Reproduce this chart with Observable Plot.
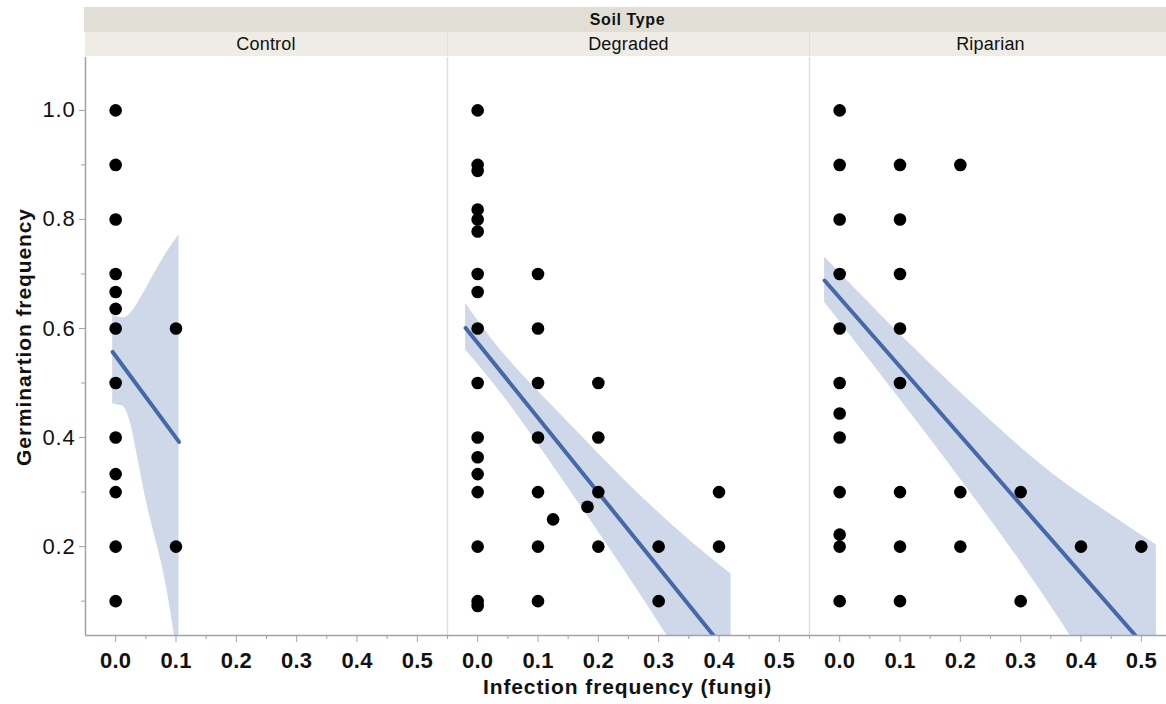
<!DOCTYPE html>
<html>
<head>
<meta charset="utf-8">
<script src="https://cdn.jsdelivr.net/npm/d3@7"></script>
<script src="https://cdn.jsdelivr.net/npm/@observablehq/plot@0.6"></script>
<style>
  html, body { margin: 0; padding: 0; background: #fff; overflow: hidden; }
  #wrap { position: relative; width: 1166px; height: 704px; overflow: hidden; font-family: "Liberation Sans", Arial, Helvetica, sans-serif; color: #111; }
  #wrap svg { position: absolute; left: 0; top: 0; max-width: none !important; }
  #wrap svg g[aria-label="y-axis tick label"] { font-size: 22px !important; }
  #wrap svg g[aria-label="y-axis tick label"] text { letter-spacing: 0.8px; }
  #wrap svg g[aria-label="x-axis tick label"] { font-size: 22px !important; font-weight: bold !important; }
  #wrap svg g[aria-label="x-axis tick label"] text { letter-spacing: 0.2px; }
  .band1 { position: absolute; background: #e1dfd5; font-weight: bold; font-size: 16px; letter-spacing: 0.6px; text-align: center; line-height: 25px; }
  .band2 { position: absolute; background: #eeece5; font-size: 18px; letter-spacing: 0.2px; text-align: center; line-height: 24px; box-sizing: border-box; }
  .xtitle { position: absolute; font-weight: bold; font-size: 21px; letter-spacing: 0.9px; line-height: 1; white-space: nowrap; transform: translateX(-50%); }
  .ytitle { position: absolute; font-weight: bold; font-size: 21px; letter-spacing: 0.9px; line-height: 1; white-space: nowrap; transform: translate(-50%, -50%) rotate(-90deg); }
</style>
</head>
<body>
<div id="wrap"></div>
<script>
// ---- Data ----
const soilTypes = ["Control", "Degraded", "Riparian"];
const facetTitle = "Soil Type";
const xTitle = "Infection frequency (fungi)";
const yTitle = "Germinartion frequency";
const xTicks = [0, 0.1, 0.2, 0.3, 0.4, 0.5];
const xMinorTicks = [0.05, 0.15, 0.25, 0.35, 0.45, 0.55];
const yTicks = [0.2, 0.4, 0.6, 0.8, 1.0];
const yMinorTicks = [0.1, 0.3, 0.5, 0.7, 0.9];
const xDomain = [-0.05, 0.55];
const yDomain = [0.037, 1.097];

// points
const controlX = [0, 0, 0, 0, 0, 0, 0, 0, 0, 0, 0, 0, 0, 0.1, 0.1];
const controlY = [1.0, 0.9, 0.8, 0.7, 0.667, 0.636, 0.6, 0.5, 0.4, 0.333, 0.3, 0.2, 0.1, 0.6, 0.2];

const degradedX = [0, 0, 0, 0, 0, 0, 0, 0, 0, 0, 0, 0, 0, 0, 0, 0, 0,
  0.1, 0.1, 0.1, 0.1, 0.1, 0.1, 0.1, 0.125, 0.182, 0.2, 0.2, 0.2, 0.2, 0.3, 0.3, 0.4, 0.4];
const degradedY = [1.0, 0.9, 0.889, 0.818, 0.8, 0.778, 0.7, 0.667, 0.6, 0.5, 0.4, 0.364, 0.333, 0.3, 0.2, 0.1, 0.091,
  0.7, 0.6, 0.5, 0.4, 0.3, 0.2, 0.1, 0.25, 0.273, 0.5, 0.4, 0.3, 0.2, 0.2, 0.1, 0.3, 0.2];

const riparianX = [0, 0, 0, 0, 0, 0, 0, 0, 0, 0, 0, 0,
  0.1, 0.1, 0.1, 0.1, 0.1, 0.1, 0.1, 0.1, 0.2, 0.2, 0.2, 0.3, 0.3, 0.4, 0.5];
const riparianY = [1.0, 0.9, 0.8, 0.7, 0.6, 0.5, 0.444, 0.4, 0.3, 0.222, 0.2, 0.1,
  0.9, 0.8, 0.7, 0.6, 0.5, 0.3, 0.2, 0.1, 0.9, 0.3, 0.2, 0.3, 0.1, 0.2, 0.2];

// fitted lines (end points)
const controlFitX = [-0.005, 0.105];
const controlFitY = [0.557, 0.392];
const degradedFitX = [-0.02, 0.42];
const degradedFitY = [0.601, -0.003];
const riparianFitX = [-0.025, 0.525];
const riparianFitY = [0.688, -0.007];

// confidence bands (edges)
const controlBandX  = [-0.005, 0.008, 0.025, 0.052, 0.080, 0.105];
const controlBandLo = [0.462, 0.459, 0.425, 0.278, 0.150, -0.02];
const controlBandHi = [0.624, 0.620, 0.628, 0.676, 0.731, 0.772];
const degradedBandX  = [-0.02, 0.05, 0.15, 0.25, 0.35, 0.42];
const degradedBandLo = [0.560, 0.465, 0.308, 0.145, -0.027, -0.158];
const degradedBandHi = [0.646, 0.545, 0.428, 0.315, 0.213, 0.150];
const riparianBandX  = [-0.025, 0.07, 0.18, 0.30, 0.40, 0.525];
const riparianBandLo = [0.648, 0.513, 0.354, 0.172, 0.006, -0.217];
const riparianBandHi = [0.731, 0.623, 0.504, 0.382, 0.296, 0.203];

// ---- build tables ----
const pointSets = {Control: [controlX, controlY], Degraded: [degradedX, degradedY], Riparian: [riparianX, riparianY]};
const fitSets = {Control: [controlFitX, controlFitY], Degraded: [degradedFitX, degradedFitY], Riparian: [riparianFitX, riparianFitY]};
const bandSets = {
  Control: [controlBandX, controlBandLo, controlBandHi],
  Degraded: [degradedBandX, degradedBandLo, degradedBandHi],
  Riparian: [riparianBandX, riparianBandLo, riparianBandHi]
};
const points = soilTypes.flatMap(s => pointSets[s][0].map((x, i) => ({soil: s, x, y: pointSets[s][1][i]})));
const fits = soilTypes.flatMap(s => fitSets[s][0].map((x, i) => ({soil: s, x, y: fitSets[s][1][i]})));
const bands = soilTypes.flatMap(s => bandSets[s][0].map((x, i) => ({soil: s, x, lo: bandSets[s][1][i], hi: bandSets[s][2][i]})));
const separators = soilTypes.slice(0, -1).map(s => ({soil: s, x: xDomain[1]}));
const leftEdge = [{soil: soilTypes[0], x: xDomain[0]}];

const W = 1174, H = 704, ML = 84, MR = 3, MT = 57, MB = 69;
const axisGray = "#a3a3a3";
const font = "Liberation Sans, Arial, Helvetica, sans-serif";

const chart = Plot.plot({
  width: W, height: H,
  marginLeft: ML, marginRight: MR, marginTop: MT, marginBottom: MB,
  style: {fontFamily: font, background: "transparent", color: "#111", maxWidth: "none"},
  fx: {domain: soilTypes, padding: 0, axis: null},
  x: {domain: xDomain, axis: null},
  y: {domain: yDomain, axis: null},
  marks: [
    Plot.areaY(bands, {fx: "soil", x: "x", y1: "lo", y2: "hi", fill: "#ced8e9", curve: "natural", clip: true}),
    Plot.ruleX(separators, {fx: "soil", x: "x", stroke: "#dedede", strokeWidth: 1.5}),
    Plot.line(fits, {fx: "soil", x: "x", y: "y", stroke: "#4468a8", strokeWidth: 4, clip: true}),
    Plot.dot(points, {fx: "soil", x: "x", y: "y", r: 6.3, fill: "#000", stroke: "none"}),
    // axes
    Plot.ruleX(leftEdge, {fx: "soil", x: "x", stroke: axisGray, strokeWidth: 1.5}),
    Plot.ruleY([yDomain[0]], {stroke: axisGray, strokeWidth: 1.5}),
    Plot.axisY(yMinorTicks, {anchor: "left", tickSize: 4, tickFormat: () => "", stroke: axisGray, label: null}),
    Plot.axisY(yTicks, {anchor: "left", tickSize: 6, tickPadding: 4, tickFormat: d3.format(".1f"), stroke: axisGray, fontSize: 22, label: null}),
    Plot.axisX(xMinorTicks.filter(v => v <= xDomain[1]), {anchor: "bottom", tickSize: 4, tickFormat: () => "", stroke: axisGray, label: null}),
    Plot.axisX(xTicks, {anchor: "bottom", tickSize: 7, tickPadding: 10, tickFormat: d3.format(".1f"), stroke: axisGray, fontSize: 22, fontWeight: "bold", label: null})
  ]
});

const wrap = document.getElementById("wrap");
wrap.appendChild(chart);

// header bands derived from the fx scale
let fxs = null;
try { fxs = chart.scale("fx"); } catch (e) { fxs = null; }
const step = (W - ML - MR) / soilTypes.length;
const leftOf = (s, i) => (fxs && fxs.apply ? fxs.apply(s) : ML + i * step);
const bw = fxs && fxs.bandwidth ? fxs.bandwidth : step;

const top1 = document.createElement("div");
top1.className = "band1";
top1.textContent = facetTitle;
top1.style.left = ML + "px";
top1.style.top = "7px";
top1.style.width = (W - ML - MR) + "px";
top1.style.height = "25px";
wrap.appendChild(top1);

soilTypes.forEach((s, i) => {
  const d = document.createElement("div");
  d.className = "band2";
  d.textContent = s;
  d.style.left = leftOf(s, i) + "px";
  d.style.top = "32px";
  d.style.width = bw + "px";
  d.style.height = "24px";
  if (i > 0) d.style.borderLeft = "1.5px solid #dedede";
  wrap.appendChild(d);
});

const xt = document.createElement("div");
xt.className = "xtitle";
xt.textContent = xTitle;
xt.style.left = (ML + (W - ML - MR) / 2) + "px";
xt.style.top = "676px";
wrap.appendChild(xt);

const yt = document.createElement("div");
yt.className = "ytitle";
yt.textContent = yTitle;
yt.style.left = "23px";
yt.style.top = "337px";
wrap.appendChild(yt);
</script>
</body>
</html>
